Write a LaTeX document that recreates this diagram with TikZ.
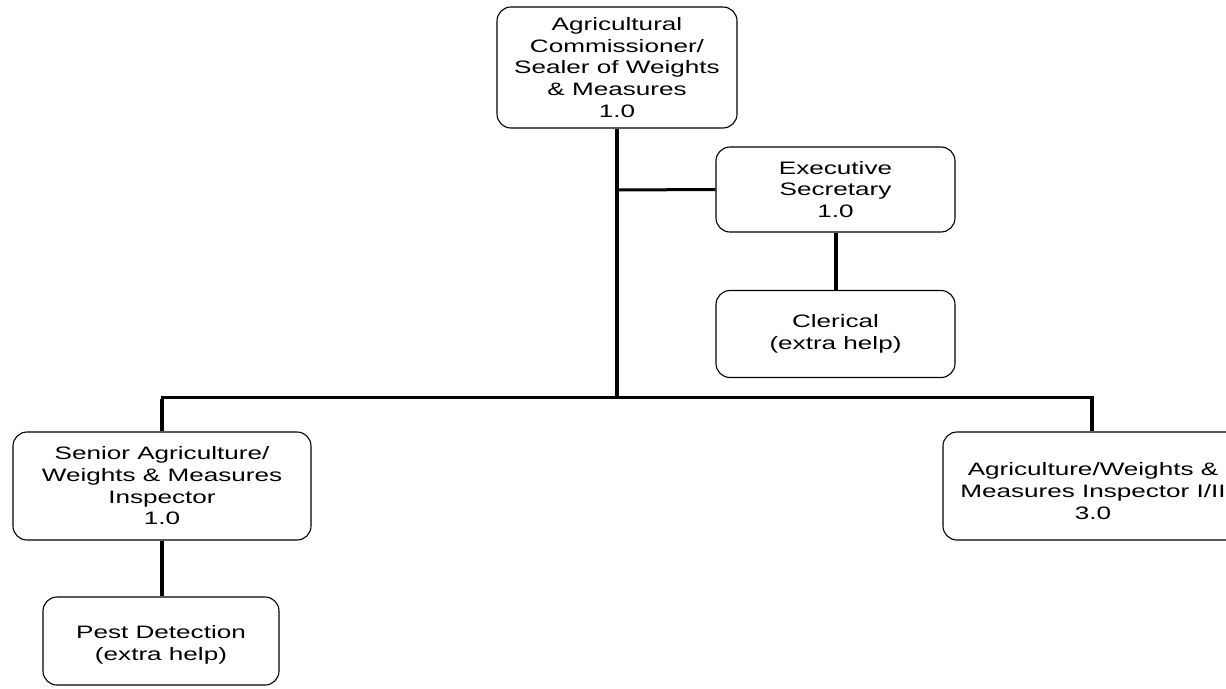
\documentclass[tikz,border=0pt]{standalone}
\usepackage{fontspec}
\setmainfont{Liberation Sans}[FakeStretch=1.45]
\begin{document}
\begin{tikzpicture}[x=1pt,y=-1pt,
  orgbox/.style={draw=black, line width=1.1pt, rounded corners=14pt, align=center,
    inner sep=0pt, font=\fontsize{18}{21.7}\selectfont},
  orgtext/.style={align=center, inner sep=0pt, font=\fontsize{18}{21.7}\selectfont},
  midline/.style={line width=3pt}]
\useasboundingbox (0,0) rectangle (1226,688);
\clip (0,0) rectangle (1226,688);
\fill[white] (0,0) rectangle (1226,688);
\node[orgbox, minimum width=240pt, minimum height=121pt] (A) at (617,67.5)
  {Agricultural\\Commissioner/\\Sealer of Weights\\\& Measures\\1.0};
\node[orgbox, minimum width=239pt, minimum height=85pt] (ES) at (835.5,189.5)
  {Executive\\Secretary\\1.0};
\node[orgbox, minimum width=239pt, minimum height=87pt] (CL) at (835.5,334)
  {Clerical\\(extra help)};
\node[orgbox, minimum width=298pt, minimum height=108pt] (SA) at (162,486)
  {Senior Agriculture/\\Weights \& Measures\\Inspector\\1.0};
\node[orgbox, minimum width=236pt, minimum height=88pt] (PD) at (161,641) {};
\node[orgtext] (PDt) at (161,645) {Pest Detection\\(extra help)};
\node[orgbox, minimum width=298pt, minimum height=108pt] (AW) at (1092,486) {};
\node[orgtext] (AWt) at (1093,491) {Agriculture/Weights \&\\Measures Inspector I/II\\3.0};
\coordinate (bus) at (617,397);
\coordinate (busL) at (162,397);
\coordinate (busR) at (1092,397);
\coordinate (esj) at (617,190);
\draw[line width=4pt] (A.south) -- (bus);
\draw[midline] (esj) -- (ES.west);
\draw[line width=4pt] (ES.south) -- (CL.north);
\draw[midline] ([xshift=-1.5pt]busL) -- ([xshift=1.5pt]busR);
\draw[line width=4pt] ([yshift=-1.5pt]busL) -- (SA.north);
\draw[line width=4pt] ([yshift=-1.5pt]busR) -- (AW.north);
\draw[line width=4pt] (SA.south) -- (SA.south |- PD.north);
\end{tikzpicture}
\end{document}
